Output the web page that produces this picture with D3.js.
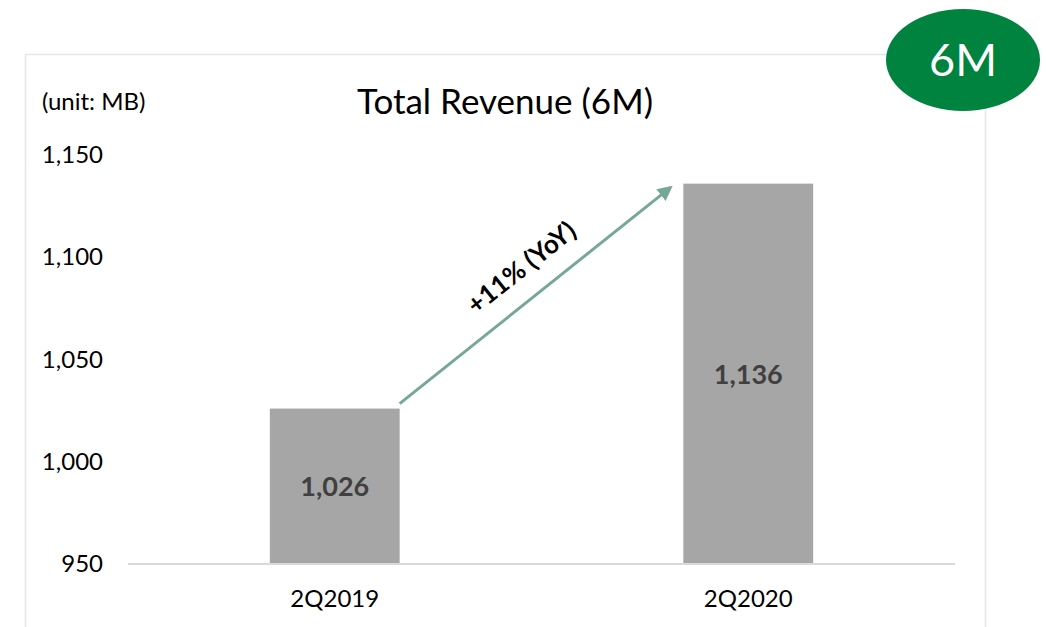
<!DOCTYPE html>
<html>
<head>
<meta charset="utf-8">
<script src="https://cdn.jsdelivr.net/npm/d3@7"></script>
<style>
  body { margin: 0; background: #fff; }
  svg { font-family: Lato, "Open Sans", sans-serif; }
</style>
</head>
<body>
<svg id="chart" width="1046" height="627"></svg>
<script>
// data
const categories = ['2Q2019', '2Q2020'];
const revenue = [1026, 1136];
const yTicks = [950, 1000, 1050, 1100, 1150];
const growthLabel = '+11% (YoY)';

const svg = d3.select('#chart');
const margin = {top: 155, left: 128, right: 91, bottom: 63};
const width = 1046 - margin.left - margin.right;
const height = 627 - margin.top - margin.bottom;

// frame
svg.append('rect')
    .attr('x', 25.5).attr('y', 54.5)
    .attr('width', 960).attr('height', 600)
    .attr('fill', 'none').attr('stroke', '#e6e6e6').attr('stroke-width', 1.5);

const g = svg.append('g').attr('transform', 'translate(' + margin.left + ',' + margin.top + ')');

const x = d3.scaleBand().domain(categories).range([0, width]).paddingInner(0.686).paddingOuter(0.343);
const y = d3.scaleLinear().domain([950, 1150]).range([height, 0]);

// y axis
const yAxis = g.append('g')
    .attr('transform', 'translate(-25,0)')
    .call(d3.axisLeft(y).tickValues(yTicks).tickFormat(d3.format(',')).tickSize(0).tickPadding(0));
yAxis.select('.domain').remove();
yAxis.selectAll('text')
    .attr('font-family', 'Lato, sans-serif').attr('font-size', 24).attr('fill', '#000');

// bars
g.selectAll('.bar').data(revenue).enter()
    .append('rect')
    .attr('class', 'bar')
    .attr('x', (d, i) => x(categories[i]))
    .attr('y', d => y(d))
    .attr('width', x.bandwidth())
    .attr('height', d => height - y(d))
    .attr('fill', '#a6a6a6');

// baseline
g.append('line')
    .attr('x1', 0).attr('x2', width)
    .attr('y1', height).attr('y2', height)
    .attr('stroke', '#d9d9d9').attr('stroke-width', 2);

// x axis
const xAxis = g.append('g')
    .attr('transform', 'translate(0,' + height + ')')
    .call(d3.axisBottom(x).tickSize(0).tickPadding(26));
xAxis.select('.domain').remove();
xAxis.selectAll('text')
    .attr('font-family', 'Lato, sans-serif').attr('font-size', 24).attr('fill', '#000');

// value labels
g.selectAll('.val').data(revenue).enter()
    .append('text')
    .attr('x', (d, i) => x(categories[i]) + x.bandwidth() / 2)
    .attr('y', d => (y(d) + height) / 2 + 10)
    .attr('text-anchor', 'middle')
    .attr('font-size', 27).attr('font-weight', 'bold')
    .attr('fill', '#404040')
    .text(d3.format(','));

// growth arrow
const x0 = x(categories[0]) + x.bandwidth();
const y0 = y(revenue[0]) - 5;
const x1 = x(categories[1]) - 13;
const y1 = y(revenue[1]) + 4;
svg.append('defs').append('marker')
    .attr('id', 'head').attr('viewBox', '0 0 10 10')
    .attr('refX', 8).attr('refY', 5)
    .attr('markerWidth', 5).attr('markerHeight', 5)
    .attr('orient', 'auto')
    .append('path').attr('d', 'M0,0 L10,5 L0,10 Z').attr('fill', '#76a898');
g.append('line')
    .attr('x1', x0).attr('y1', y0).attr('x2', x1).attr('y2', y1)
    .attr('stroke', '#76a898').attr('stroke-width', 3)
    .attr('marker-end', 'url(#head)');

const angle = Math.atan2(y1 - y0, x1 - x0) * 180 / Math.PI;
g.append('text')
    .attr('transform', 'translate(' + ((x0 + x1) / 2 - 8) + ',' + ((y0 + y1) / 2 - 21) + ') rotate(' + angle + ')')
    .attr('text-anchor', 'middle')
    .attr('font-size', 26).attr('font-weight', 'bold')
    .attr('fill', '#000')
    .text(growthLabel);

// titles
svg.append('text')
    .attr('x', 42).attr('y', 110)
    .attr('font-size', 24).text('(unit: MB)');
svg.append('text')
    .attr('x', 505).attr('y', 114)
    .attr('text-anchor', 'middle')
    .attr('font-size', 35).text('Total Revenue (6M)');

// badge
svg.append('ellipse')
    .attr('cx', 963).attr('cy', 60).attr('rx', 77).attr('ry', 51)
    .attr('fill', '#00833e');
svg.append('text')
    .attr('x', 963).attr('y', 76)
    .attr('text-anchor', 'middle')
    .attr('font-size', 45).attr('fill', '#fff')
    .text('6M');
</script>
</body>
</html>
